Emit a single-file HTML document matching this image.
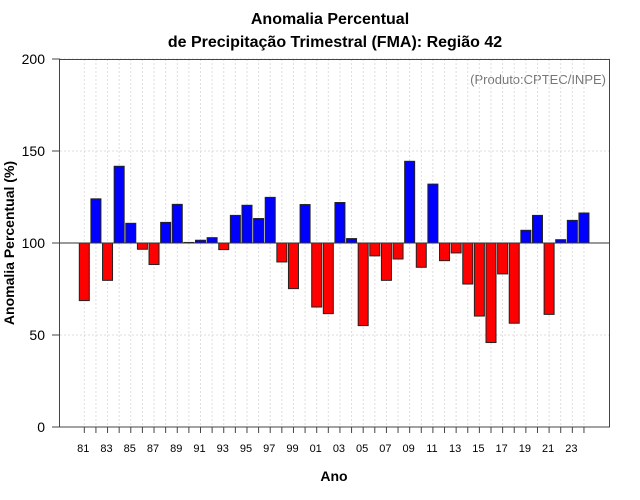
<!DOCTYPE html>
<html><head><meta charset="utf-8"><style>
body{margin:0;background:#fff;}
svg{display:block;font-family:"Liberation Sans",sans-serif;}
</style></head><body>
<svg id="chart" width="640" height="500">
<text x="330" y="24" text-anchor="middle" font-size="16" font-weight="bold">Anomalia Percentual</text>
<text x="335" y="47" text-anchor="middle" font-size="16" font-weight="bold">de Precipitação Trimestral (FMA): Região 42</text>
<text x="606" y="84" text-anchor="end" font-size="13" fill="#777">(Produto:CPTEC/INPE)</text>
<text x="334" y="481" text-anchor="middle" font-size="14" font-weight="bold">Ano</text>
<text transform="translate(14,243) rotate(-90)" text-anchor="middle" font-size="14" font-weight="bold">Anomalia Percentual (%)</text>
<g id="grid"></g><g id="bars"></g><g id="axes"></g>
</svg>
<script>
const years = [1981,1982,1983,1984,1985,1986,1987,1988,1989,1990,1991,1992,1993,1994,1995,1996,1997,1998,1999,2000,2001,2002,2003,2004,2005,2006,2007,2008,2009,2010,2011,2012,2013,2014,2015,2016,2017,2018,2019,2020,2021,2022,2023,2024];
const values = [68.7,124,79.7,141.7,110.7,96.6,88.3,111.2,121,100.3,101.5,102.9,96.4,115,120.5,113.3,124.8,89.7,75.2,120.9,65.2,61.6,122,102.4,55.1,93,79.7,91.3,144.4,86.8,132,90.4,94.6,77.7,60.3,45.9,83.2,56.4,106.9,115,61.2,101.8,112.3,116.3];
const yTicks = [0,50,100,150,200];
const baseline = 100;
const NS='http://www.w3.org/2000/svg';
const x = i => 84.3 + i*11.62;
const y = v => 427 - v*1.84;
function mk(tag, parent, attrs){const e=document.createElementNS(NS,tag);for(const k in attrs)e.setAttribute(k,attrs[k]);parent.appendChild(e);return e;}
const grid=document.getElementById('grid'), bars=document.getElementById('bars'), axes=document.getElementById('axes');
years.forEach((yr,i)=>{
  const l=mk('line',grid,{x1:x(i),x2:x(i),y1:59,y2:427,stroke:'#ddd','stroke-dasharray':'2,2'});
  
  
});
yTicks.forEach(t=>{
  const l=mk('line',grid,{x1:60,x2:610,y1:y(t),y2:y(t),stroke:'#ddd','stroke-dasharray':'2,2'});
  
  
});
values.forEach((v,i)=>{
  const top=Math.min(y(v),y(baseline)), h=Math.abs(y(v)-y(baseline));
  const r=mk('rect',bars,{x:x(i)-5,y:top,width:10,height:Math.max(h,0.5),fill:v>=baseline?'#0000ff':'#ff0000',stroke:'#222','stroke-width':1});
  
  
});
const bl=mk('line',axes,{x1:60,x2:610,y1:y(baseline),y2:y(baseline),stroke:'#333','stroke-width':1});


const box=mk('rect',axes,{x:59.5,y:59.5,width:550,height:367.5,fill:'none',stroke:'#444','stroke-width':1});


yTicks.forEach(t=>{
  mk('line',axes,{x1:52,x2:60,y1:y(t),y2:y(t),stroke:'#444'});
  const tx=mk('text',axes,{x:45,y:y(t)+5,'text-anchor':'end','font-size':14});
  tx.textContent=t;
  
  
});
years.forEach((yr,i)=>{
  mk('line',axes,{x1:x(i),x2:x(i),y1:427,y2:433,stroke:'#444'});
  if(i%2===0){
    const tx=mk('text',axes,{x:x(i)-1,y:452,'text-anchor':'middle','font-size':11});
    tx.textContent=String(yr).slice(2);
    
    
  }
});
</script>
</body></html>
